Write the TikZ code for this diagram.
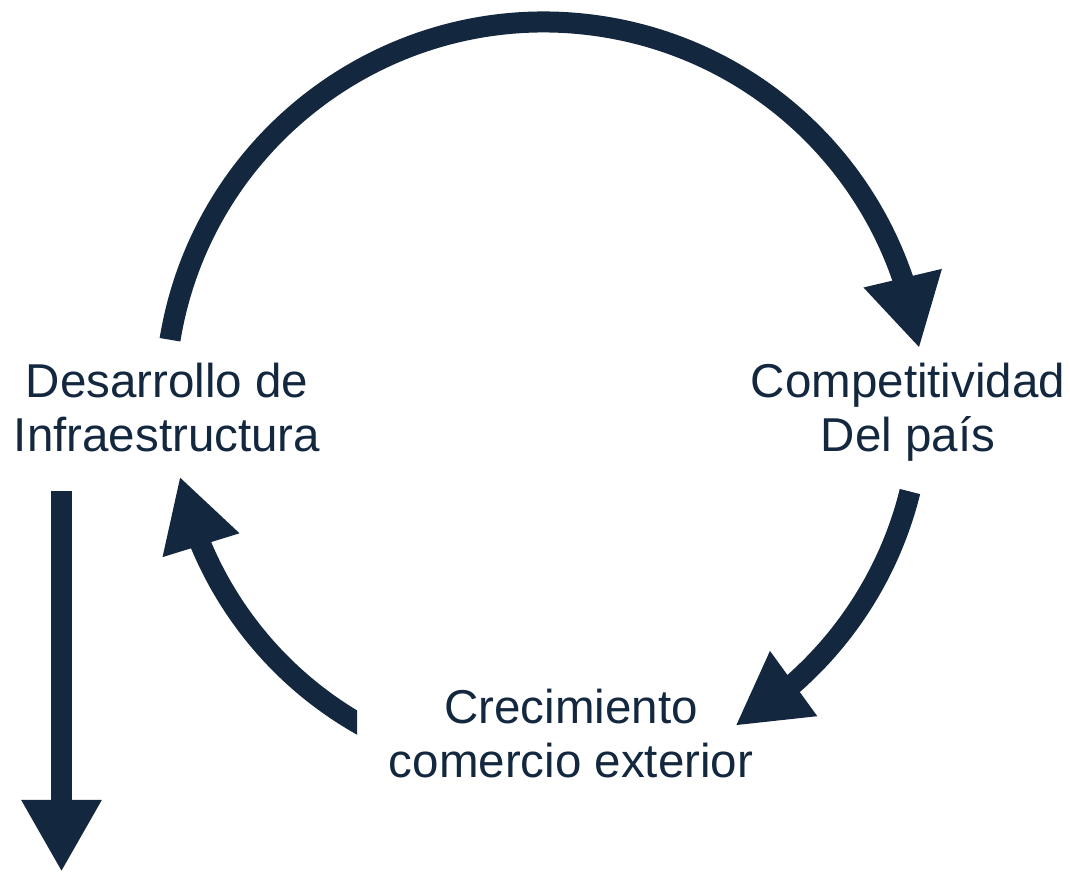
\documentclass[tikz,border=0pt]{standalone}
\usepackage{fontspec}
\setmainfont{Liberation Sans}
\usetikzlibrary{arrows.meta,bending}
\definecolor{navy}{HTML}{13273F}
\begin{document}
\begin{tikzpicture}[x=1pt,y=1pt,
  flow/.style={draw=navy, line width=21pt, -{Triangle[width=75pt,length=72pt,flex]}},
  lbl/.style={text=navy, align=center, font=\fontsize{47.5pt}{54pt}\selectfont, inner sep=0pt, anchor=base}]
\useasboundingbox (0,0) rectangle (1070,872);
\coordinate (c) at (544,471);
% labels (base anchor = baseline of the last line)
\node[lbl] (infra) at (167,420) {Desarrollo de\\Infraestructura};
\node[lbl] (comp) at (908,420) {Competitividad\\Del país};
\node[lbl] (crec) at (571,94) {Crecimiento\\comercio exterior};
% arc start points
\path (c) ++(170.7:379) coordinate (a1);
\path (c) ++(-13.9:377) coordinate (a2);
\path (c) ++(-115:372) coordinate (a3);
% top arc: Desarrollo -> Competitividad
\draw[flow] (a1) arc[start angle=170.7, end angle=8, radius=379];
% right arc: Competitividad -> Crecimiento
\draw[flow] (a2) arc[start angle=-13.9, end angle=-59.5, radius=377];
% left arc: Crecimiento -> Desarrollo
\begin{scope}
  \clip (0,0) rectangle (357,872);
  \draw[flow] (a3) arc[start angle=-115, end angle=-168.3, radius=372];
\end{scope}
% down arrow
\coordinate (d1) at (61.5,381);
\coordinate (d2) at (61.5,0);
\draw[flow] (d1) -- (d2);
\end{tikzpicture}
\end{document}
